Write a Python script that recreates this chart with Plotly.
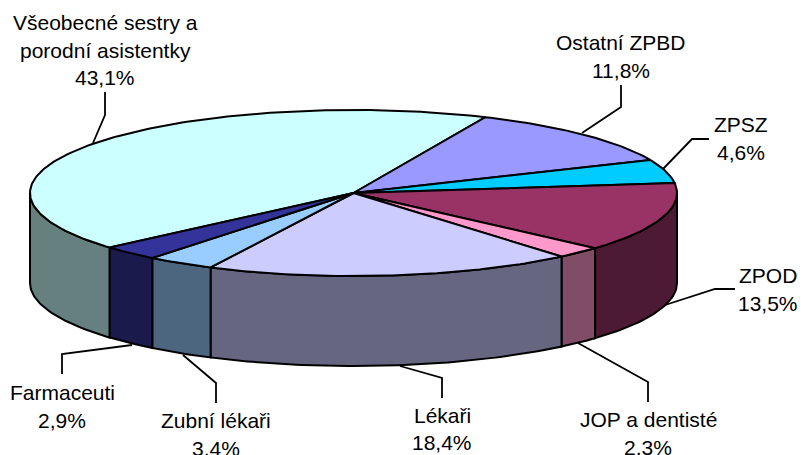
import math
import plotly.graph_objects as go

categories = ["Všeobecné sestry a<br>porodní asistentky", "Ostatní ZPBD", "ZPSZ", "ZPOD",
              "JOP a dentisté", "Lékaři", "Zubní lékaři", "Farmaceuti"]
values = [43.1, 11.8, 4.6, 13.5, 2.3, 18.4, 3.4, 2.9]
top_colors = ["#CCFFFF", "#9999FF", "#00CCFF", "#993366", "#FF99CC", "#CCCCFF", "#99CCFF", "#333399"]
wall_colors = ["#668080", "#4D4D80", "#006680", "#4D1A33", "#804D66", "#666680", "#4D6680", "#1A1A4D"]

label_x = [105, 621, 741, 768, 648, 442, 216, 62]
label_y = [[22, 50, 77], [42, 70], [124, 152], [275, 303], [419, 447], [415, 442], [420, 448], [392, 420]]
leaders = [
    [(93, 143), (105, 115), (105, 92)],
    [(582, 133), (621, 107), (621, 85)],
    [(663, 169), (692, 139), (709, 139)],
    [(662, 306), (715, 289), (735, 289)],
    [(578, 343), (648, 382), (648, 402)],
    [(400, 366), (442, 378), (442, 398)],
    [(183, 355), (216, 383), (216, 403)],
    [(132, 345), (62, 354), (62, 374)],
]

CX, CY, RX, RY, DEPTH = 353.5, 193.0, 323.5, 83.0, 90.0
START_DEG = 221.1  # angle of the first slice's start, going clockwise
LW = 2.0


def pt(a, dy=0.0):
    r = math.radians(a)
    return CX + RX * math.cos(r), CY - RY * math.sin(r) + dy


def arc(a0, a1, dy=0.0, step=1.0):
    n = max(2, int(abs(a1 - a0) / step) + 1)
    return [pt(a0 + (a1 - a0) * i / (n - 1), dy) for i in range(n)]


def poly(points, fill):
    xs = [p[0] for p in points] + [points[0][0]]
    ys = [p[1] for p in points] + [points[0][1]]
    return go.Scatter(x=xs, y=ys, mode="lines", fill="toself", fillcolor=fill,
                      line=dict(color="black", width=LW), hoverinfo="skip", showlegend=False)


# slice angle intervals, clockwise (decreasing angle)
total = sum(values)
spans = []
a = START_DEG
for v in values:
    b = a - v / total * 360
    spans.append((a, b))
    a = b

fig = go.Figure()

# leader lines, under the pie
for seg in leaders:
    fig.add_trace(go.Scatter(x=[p[0] for p in seg], y=[p[1] for p in seg], mode="lines",
                             line=dict(color="black", width=1.8), hoverinfo="skip", showlegend=False))

# visible front wall: lower half of the ellipse, angles 180..360 (= -180..0)
for (a0, a1), col in zip(spans, wall_colors):
    for shift in (0, -360, 360):
        s0 = a0 + shift
        s1 = a1 + shift
        lo = max(s1, -180)
        hi = min(s0, 0)
        if hi > lo:
            pts = arc(hi, lo) + arc(lo, hi, DEPTH)
            fig.add_trace(poly(pts, col))

# top faces
for (a0, a1), col in zip(spans, top_colors):
    fig.add_trace(poly([(CX, CY)] + arc(a0, a1), col))

# labels
annotations = []
for cat, v, lx, ly in zip(categories, values, label_x, label_y):
    lines = cat.split("<br>") + [f"{v:.1f}%".replace(".", ",")]
    for text, y in zip(lines, ly):
        annotations.append(dict(x=lx, y=y, xref="x", yref="y", text=text, showarrow=False,
                                xanchor="center", yanchor="middle",
                                font=dict(family="Liberation Sans", size=21, color="black")))

fig.update_layout(
    width=803, height=455, margin=dict(l=0, r=0, t=0, b=0),
    paper_bgcolor="white", plot_bgcolor="white", showlegend=False,
    xaxis=dict(range=[0, 803], visible=False, fixedrange=True),
    yaxis=dict(range=[455, 0], visible=False, fixedrange=True),
    annotations=annotations,
)
fig.write_html("out.html", config={"displayModeBar": False},
               post_script="document.body.style.margin='0';document.body.style.overflow='hidden';")
